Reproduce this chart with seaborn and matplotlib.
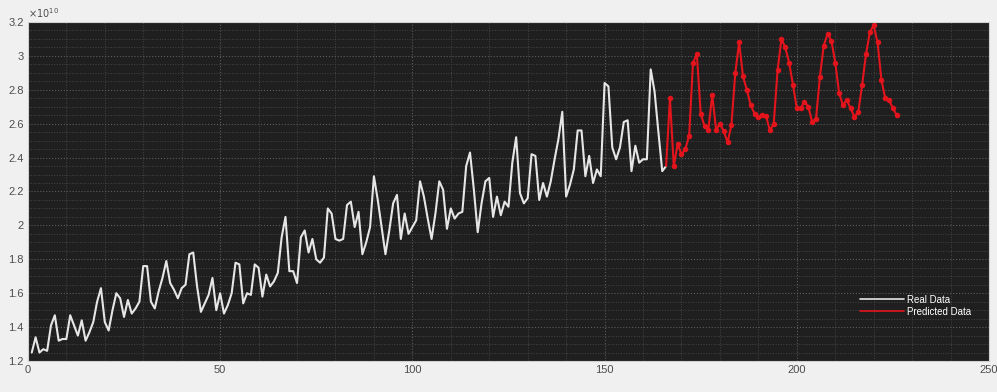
import numpy as np
import pandas as pd
import matplotlib
matplotlib.use("Agg")
import matplotlib.pyplot as plt
from matplotlib.ticker import MultipleLocator, FuncFormatter
from matplotlib.lines import Line2D
import seaborn as sns

# ── data (values in units of 1e10) ───────────────────────
real_vals = [
    1.25, 1.34, 1.25, 1.27, 1.26, 1.41, 1.47, 1.32, 1.33, 1.33,
    1.47, 1.41, 1.35, 1.44, 1.32, 1.37, 1.43, 1.55, 1.63, 1.43,
    1.38, 1.50, 1.60, 1.57, 1.46, 1.56, 1.48, 1.51, 1.55, 1.76,
    1.76, 1.55, 1.51, 1.61, 1.69, 1.79, 1.66, 1.62, 1.57, 1.63,
    1.65, 1.83, 1.84, 1.64, 1.49, 1.54, 1.59, 1.69, 1.50, 1.60,
    1.48, 1.53, 1.60, 1.78, 1.77, 1.54, 1.60, 1.59, 1.77, 1.75,
    1.58, 1.71, 1.64, 1.67, 1.72, 1.93, 2.05, 1.73, 1.73, 1.66,
    1.93, 1.97, 1.84, 1.92, 1.80, 1.78, 1.81, 2.10, 2.07, 1.92,
    1.91, 1.92, 2.12, 2.14, 1.99, 2.08, 1.83, 1.90, 1.99, 2.29,
    2.15, 1.99, 1.83, 1.97, 2.13, 2.18, 1.92, 2.07, 1.95, 1.99,
    2.03, 2.26, 2.17, 2.04, 1.92, 2.07, 2.26, 2.21, 1.98, 2.10,
    2.04, 2.07, 2.08, 2.35, 2.43, 2.21, 1.96, 2.13, 2.26, 2.28,
    2.05, 2.17, 2.06, 2.14, 2.11, 2.37, 2.52, 2.19, 2.13, 2.16,
    2.42, 2.41, 2.15, 2.25, 2.17, 2.26, 2.39, 2.51, 2.67, 2.17,
    2.24, 2.33, 2.56, 2.56, 2.29, 2.41, 2.25, 2.33, 2.29, 2.84,
    2.82, 2.46, 2.39, 2.46, 2.61, 2.62, 2.32, 2.47, 2.37, 2.39,
    2.39, 2.92, 2.79, 2.55, 2.32, 2.35,
]

pred_vals = [
    2.75, 2.35, 2.48, 2.42, 2.45, 2.53, 2.96, 3.01, 2.66, 2.585,
    2.565, 2.77, 2.565, 2.60, 2.555, 2.49, 2.595, 2.90, 3.08, 2.88,
    2.80, 2.71, 2.66, 2.64, 2.65, 2.645, 2.56, 2.60, 2.915, 3.10,
    3.05, 2.96, 2.83, 2.69, 2.69, 2.73, 2.70, 2.61, 2.63, 2.875,
    3.06, 3.13, 3.09, 2.96, 2.78, 2.71, 2.74, 2.69, 2.64, 2.67,
    2.83, 3.01, 3.14, 3.18, 3.08, 2.86, 2.75, 2.74, 2.69, 2.65,
]

legend_labels = ["Real Data", "Predicted Data"]
scale = 1e10

real_df = pd.DataFrame({
    "t": np.arange(1, len(real_vals) + 1),
    "value": np.array(real_vals) * scale,
})
# predicted line continues from the last real point
pred_df = pd.DataFrame({
    "t": np.arange(len(real_vals), len(real_vals) + len(pred_vals) + 1),
    "value": np.array([real_vals[-1]] + pred_vals) * scale,
})

# ── style ────────────────────────────────────────────────
sns.set_theme(style="dark")
plt.rcParams["font.family"] = ["Liberation Sans", "DejaVu Sans"]

bg_fig = "#f0f0f0"
bg_ax = "#1f1f1f"
white = "#e6e6e6"
red = "#e3141c"

fig = plt.figure(figsize=(9.97, 3.92), dpi=100, facecolor=bg_fig)
ax = fig.add_axes([0.028, 0.079, 0.964, 0.865])
ax.set_facecolor(bg_ax)

sns.lineplot(data=real_df, x="t", y="value", ax=ax, color=white,
             linewidth=1.5, legend=False)
sns.lineplot(data=pred_df, x="t", y="value", ax=ax, color=red,
             linewidth=1.5, marker="o", markersize=3.2,
             markeredgecolor=red, markevery=slice(1, None), legend=False)

ax.set_xlim(0, 250)
ax.set_ylim(1.2 * scale, 3.2 * scale)
ax.xaxis.set_major_locator(MultipleLocator(50))
ax.xaxis.set_minor_locator(MultipleLocator(10))
ax.yaxis.set_major_locator(MultipleLocator(0.2 * scale))
ax.yaxis.set_minor_locator(MultipleLocator(0.05 * scale))
ax.yaxis.set_major_formatter(FuncFormatter(lambda v, _: f"{v / scale:g}"))

ax.grid(which="major", color="#5c5c5c", linestyle=":", linewidth=0.8)
ax.grid(which="minor", color="#454545", linestyle=":", linewidth=0.7)
ax.set_axisbelow(True)

ax.set_xlabel("")
ax.set_ylabel("")
ax.tick_params(axis="both", which="both", direction="in", colors="#5a5a5a",
               labelcolor="#4d4d4d", labelsize=8, length=0, width=0.6)
ax.tick_params(which="major", pad=3)
for s in ax.spines.values():
    s.set_color("#d0d0d0")
    s.set_linewidth(0.8)

ax.text(0.0, 1.005, r"$\times10^{10}$", transform=ax.transAxes,
        fontsize=7, color="#4d4d4d", ha="left", va="bottom")

handles = [Line2D([0], [0], color=white, linewidth=1.2),
           Line2D([0], [0], color=red, linewidth=1.2)]
leg = ax.legend(handles, legend_labels, loc="lower right",
                bbox_to_anchor=(0.99, 0.105), frameon=False, fontsize=7,
                labelcolor="white", handlelength=4.5, handletextpad=0.3,
                labelspacing=0.2)

plt.savefig("out.png", dpi=100, facecolor=bg_fig)
plt.close()
